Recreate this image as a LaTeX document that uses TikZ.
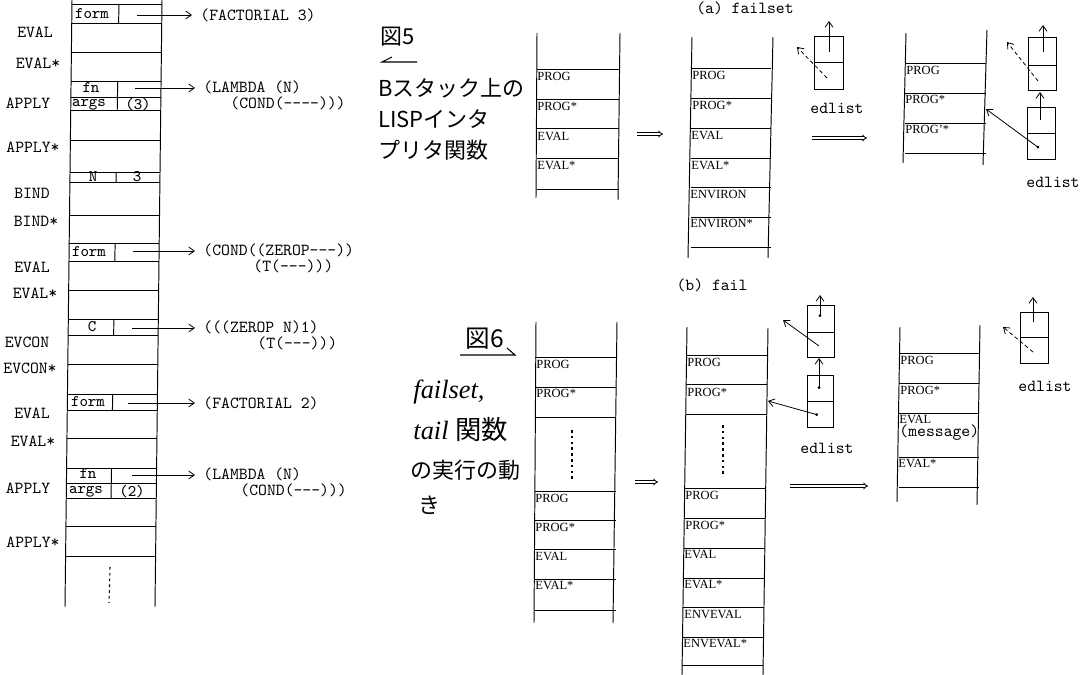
\documentclass[tikz,border=0pt]{standalone}
\usepackage{fontspec}
\setmainfont{Liberation Serif}
\newfontfamily\jpf{Noto Sans CJK JP}
\usetikzlibrary{arrows.meta}
\begin{document}
\begin{tikzpicture}[x=0.02cm,y=-0.02cm,line width=0.55pt,
  mono/.style={font=\ttfamily\fontsize{9.6}{11}\selectfont,inner sep=0pt},
  cell/.style={font=\ttfamily\fontsize{9.2}{10}\selectfont,inner sep=0pt},
  monow/.style={mono,anchor=west},
  lab/.style={font=\fontsize{7.1}{8}\selectfont,inner sep=0pt,anchor=west},
  ptr/.style={line width=0.45pt,-{Straight Barb[length=3.2pt,width=4.5pt]}},
  dptr/.style={ptr,dash pattern=on 2.2pt off 1.6pt},
  dotptr/.style={line width=0.45pt,{Circle[length=1.6pt]}-{Straight Barb[length=3.2pt,width=4.5pt]}},
  bigarr/.style={double,double distance=0.9pt,line width=0.45pt,-{Implies}},
  hand/.style={font=\jpf\fontsize{12.5}{14}\selectfont,inner sep=0pt,anchor=west},
  script/.style={font=\itshape\fontsize{15}{17}\selectfont,inner sep=0pt,anchor=west},
  vdots/.style={line width=0.6pt,dash pattern=on 1.5pt off 1.8pt}]
\useasboundingbox (0,0) rectangle (1090,675);
\def\sk{0.0115}
% ===== left stack =====
\draw (72,0) -- (65,607);
\draw (162,0) -- (155,607);
\foreach \y in {4,23,52,81,97,110,140,172,182,215,243,261,290,319,335,364,394,410,438,468,483,498,526,556}
  \draw ({72-\sk*\y},\y) -- ({162-\sk*\y},\y);
\foreach \a/\b in {4/23,81/110,172/182,243/261,319/335,394/410,468/498}
  \draw ({119-0.016*\a},\a) -- ({119-0.016*\b},\b);
\draw[vdots] (110,567) -- (109,603);
% cell texts
\node[cell] (cf1) at (92,14) {form};
\node[cell] (cfn1) at (91,88) {fn};
\node[cell] (ca1) at (89,105) {args};
\node[cell] (cv1) at (138,105) {(3)};
\node[cell] (cN) at (93,177) {N};
\node[cell] (c3) at (137,177) {3};
\node[cell] (cf2) at (89,252) {form};
\node[cell] (cC) at (92,327) {C};
\node[cell] (cf3) at (88,402) {form};
\node[cell] (cfn2) at (88,474) {fn};
\node[cell] (ca2) at (86,492) {args};
\node[cell] (cv2) at (132,492) {(2)};
% left labels
\node[mono] (l1) at (35,32) {EVAL};
\node[mono] (l2) at (38,63) {EVAL*};
\node[mono] (l3) at (28,103) {APPLY};
\node[mono] (l4) at (33,147) {APPLY*};
\node[mono] (l5) at (32,193) {BIND};
\node[mono] (l6) at (36,221) {BIND*};
\node[mono] (l7) at (32,267) {EVAL};
\node[mono] (l8) at (35,293) {EVAL*};
\node[mono] (l9) at (27,342) {EVCON};
\node[mono] (l10) at (30,368) {EVCON*};
\node[mono] (l11) at (32,413) {EVAL};
\node[mono] (l12) at (33,441) {EVAL*};
\node[mono] (l13) at (28,488) {APPLY};
\node[mono] (l14) at (33,542) {APPLY*};
% pointed texts
\node[monow] (t1) at (200,15) {(FACTORIAL 3)};
\node[monow] (t2a) at (203,87) {(LAMBDA (N)};
\node[monow] (t2b) at (230,103) {(COND(----)))};
\node[monow] (t3a) at (203,250) {(COND((ZEROP---))};
\node[monow] (t3b) at (253,266) {(T(---)))};
\node[monow] (t4a) at (203,327) {(((ZEROP N)1)};
\node[monow] (t4b) at (257,343) {(T(---)))};
\node[monow] (t5) at (203,403) {(FACTORIAL 2)};
\node[monow] (t6a) at (203,474) {(LAMBDA (N)};
\node[monow] (t6b) at (240,490) {(COND(---)))};
\coordinate (p1) at (137,15);
\coordinate (p2) at (135,88);
\coordinate (p3) at (133,251);
\coordinate (p4) at (132,328);
\coordinate (p5) at (128,403);
\coordinate (p6) at (132,475);
\foreach \p/\t in {p1/t1,p2/t2a,p3/t3a,p4/t4a,p5/t5,p6/t6a}
  \draw[ptr] (\p) -- ([xshift=-0.16cm]\t.west |- \p);
% ===== handwritten =====
\node[hand] (f5) at (380,37) {図5};
\draw[line width=0.6pt] (392,57) -- (382,62) -- (417,62);
\node[hand] (h1) at (378,88) {Bスタック上の};
\node[hand] (h2) at (378,119) {LISPインタ};
\node[hand] (h3) at (378,150) {プリタ関数};
\node[hand,font=\jpf\fontsize{14}{16}\selectfont] (f6) at (465,339) {図6};
\draw[line width=0.6pt] (460,355) -- (515,355) -- (507,348);
\node[script] (g1) at (413,392) {failset,};
\node[script] (g2) at (413,430) {tail \jpf 関数};
\node[hand] (g3) at (410,470) {の実行の動};
\node[hand] (g4) at (418,505) {き};
% ===== (a) failset =====
\node[mono] (capa) at (745,8) {(a) failset};
% stack A1
\draw (537,33) -- (536,198);
\draw (620,33) -- (618,200);
\foreach \y in {69,99,128,158,189} \draw (537,\y) -- (619,\y);
\node[lab] (a1p) at (537,76) {PROG};
\node[lab] (a1ps) at (537,106) {PROG*};
\node[lab] (a1e) at (537,136) {EVAL};
\node[lab] (a1es) at (537,165) {EVAL*};
\coordinate (ar1s) at (637,134);
\coordinate (ar1e) at (663,134);
\draw[bigarr] (ar1s) -- (ar1e);
% stack A2
\draw (692,37) -- (688,258);
\draw (773,37) -- (768,258);
\foreach \y in {68,98,128,158,187,217,247} \draw (691,\y) -- (771,\y);
\node[lab] (a2p) at (692,75) {PROG};
\node[lab] (a2ps) at (692,105) {PROG*};
\node[lab] (a2e) at (691,135) {EVAL};
\node[lab] (a2es) at (691,165) {EVAL*};
\node[lab] (a2v) at (690,194) {ENVIRON};
\node[lab] (a2vs) at (690,223) {ENVIRON*};
% edlist E1
\draw (814,36) rectangle (843,89);
\draw (814,62) -- (843,62);
\coordinate (e1a) at (829,52); \coordinate (e1b) at (829,21);
\coordinate (e1c) at (827,78); \coordinate (e1d) at (797,47);
\draw[ptr] (e1a) -- (e1b);
\draw[dptr] (e1c) -- (e1d);
\node[mono] (ed1) at (837,108) {edlist};
\coordinate (ar2s) at (812,138);
\coordinate (ar2e) at (867,138);
\draw[bigarr] (ar2s) -- (ar2e);
% stack A3
\draw (906,33) -- (903,163);
\draw (987,30) -- (983,165);
\foreach \y in {63,93,123,153} \draw (905,\y) -- (986,\y);
\node[lab] (a3p) at (906,70) {PROG};
\node[lab] (a3ps) at (905,99) {PROG*};
\node[lab] (a3pp) at (905,129) {PROG'*};
\coordinate (a3edge) at (986,109);
% edlist E2, E3
\draw (1028,37) rectangle (1056,90);
\draw (1028,65) -- (1056,65);
\coordinate (e2a) at (1043,52); \coordinate (e2b) at (1043,25);
\coordinate (e2c) at (1038,81); \coordinate (e2d) at (1007,42);
\draw[ptr] (e2a) -- (e2b);
\draw[dptr] (e2c) -- (e2d);
\draw (1027,107) rectangle (1055,159);
\draw (1027,133) -- (1055,133);
\coordinate (e3a) at (1040,120); \coordinate (e3b) at (1040,92);
\coordinate (e3c) at (1039,148);
\draw[ptr] (e3a) -- (e3b);
\draw[dotptr] (e3c) -- (a3edge);
\node[mono] (ed2) at (1053,182) {edlist};
% ===== (b) fail =====
\node[mono] (capb) at (712,285) {(b) fail};
% stack B1
\draw (536,322) -- (534,623);
\draw (617,322) -- (613,623);
\foreach \y in {357,387,417,491,520,549,579,610} \draw (535,\y) -- (616,\y);
\node[lab] (b1p) at (536,364) {PROG};
\node[lab] (b1ps) at (536,393) {PROG*};
\node[lab] (b1p2) at (535,498) {PROG};
\node[lab] (b1ps2) at (535,527) {PROG*};
\node[lab] (b1e) at (535,556) {EVAL};
\node[lab] (b1es) at (535,585) {EVAL*};
\draw[vdots] (572,430) -- (572,482);
\coordinate (ar3s) at (635,482);
\coordinate (ar3e) at (658,482);
\draw[bigarr] (ar3s) -- (ar3e);
% stack B2
\draw (687,327) -- (682,675);
\draw (768,328) -- (763,675);
\foreach \y in {355,384,414,488,518,548,578,607,637,665} \draw ({687-0.014*(\y-327)},\y) -- ({768-0.014*(\y-327)},\y);
\node[lab] (b2p) at (687,362) {PROG};
\node[lab] (b2ps) at (687,392) {PROG*};
\node[lab] (b2p2) at (685,495) {PROG};
\node[lab] (b2ps2) at (685,525) {PROG*};
\node[lab] (b2e) at (684,554) {EVAL};
\node[lab] (b2es) at (684,584) {EVAL*};
\node[lab] (b2v) at (684,614) {ENVEVAL};
\node[lab] (b2vs) at (683,643) {ENVEVAL*};
\draw[vdots] (723,425) -- (723,477);
\coordinate (b2edge) at (768,401);
% edlist E4, E5
\draw (807,305) rectangle (834,357);
\draw (807,332) -- (834,332);
\coordinate (e4a) at (820,317); \coordinate (e4b) at (820,295);
\coordinate (e4c) at (819,346); \coordinate (e4d) at (783,320);
\draw[dotptr] (e4a) -- (e4b);
\draw[ptr] (e4c) -- (e4d);
\draw (807,375) rectangle (833,427);
\draw (807,401) -- (833,401);
\coordinate (e5a) at (819,389); \coordinate (e5b) at (819,358);
\coordinate (e5c) at (818,415);
\draw[dotptr] (e5a) -- (e5b);
\draw[dotptr] (e5c) -- (b2edge);
\node[mono] (ed3) at (827,448) {edlist};
\coordinate (ar4s) at (790,486);
\coordinate (ar4e) at (868,486);
\draw[bigarr] (ar4s) -- (ar4e);
% stack B3
\draw (900,327) -- (897,502);
\draw (980,325) -- (977,505);
\foreach \y in {353,383,413,457,487} \draw (899,\y) -- (979,\y);
\node[lab] (b3p) at (900,360) {PROG};
\node[lab] (b3ps) at (900,390) {PROG*};
\node[lab] (b3e) at (899,419) {EVAL};
\node[monow] (b3m) at (899,433) {(message)};
\node[lab] (b3es) at (898,463) {EVAL*};
% edlist E6
\draw (1020,312) rectangle (1048,363);
\draw (1020,337) -- (1048,337);
\coordinate (e6a) at (1033,322); \coordinate (e6b) at (1033,297);
\coordinate (e6c) at (1033,352); \coordinate (e6d) at (1003,327);
\draw[ptr] (e6a) -- (e6b);
\draw[dptr] (e6c) -- (e6d);
\node[mono] (ed4) at (1045,386) {edlist};
\end{tikzpicture}
\end{document}
